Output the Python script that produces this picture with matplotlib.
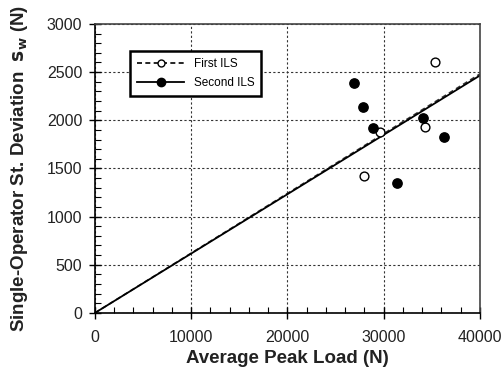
import matplotlib
matplotlib.use("Agg")
import matplotlib.pyplot as plt
import numpy as np
from matplotlib.lines import Line2D
from matplotlib.ticker import MultipleLocator

plt.rcParams['font.family'] = ['Liberation Sans', 'DejaVu Sans']

# first ILS (open circles)
x_first = [35300, 29600, 34300, 28000]
y_first = [2600, 1875, 1930, 1425]
# second ILS (filled circles)
x_second = [26900, 27900, 28900, 31350, 34100, 36250]
y_second = [2390, 2140, 1915, 1345, 2020, 1830]
# fitted slopes through origin
slope_first = 0.0620
slope_second = 0.0616
x_fit = [0, 40000]

fig = plt.figure(figsize=(5.02, 3.73), dpi=100)
ax = fig.add_axes([0.189, 0.161, 0.767, 0.775])

ax.plot(x_fit, [slope_first * v for v in x_fit], color='#333333', ls=(0, (3, 2)), lw=1.2)
ax.plot(x_fit, [slope_second * v for v in x_fit], color='black', ls='-', lw=1.3)
ax.scatter(x_first, y_first, s=40, facecolor='white', edgecolor='black', lw=1, zorder=3)
ax.scatter(x_second, y_second, s=45, facecolor='black', edgecolor='black', zorder=3)

ax.set_xlim(0, 40000)
ax.set_ylim(0, 3000)
ax.xaxis.set_major_locator(MultipleLocator(10000))
ax.xaxis.set_minor_locator(MultipleLocator(2000))
ax.yaxis.set_major_locator(MultipleLocator(500))
ax.yaxis.set_minor_locator(MultipleLocator(100))
ax.tick_params(which='major', direction='inout', length=8, width=1, labelsize=11.5,
               colors='black', labelcolor='#222222')
ax.tick_params(axis='x', which='major', pad=8)
ax.tick_params(axis='y', which='major', pad=5)
ax.tick_params(which='minor', direction='in', length=4, width=0.8)
ax.grid(True, which='major', ls=(0, (2, 2)), color='#333333', lw=0.8)

for side in ['top', 'right']:
    ax.spines[side].set_linestyle((0, (1.5, 1)))
    ax.spines[side].set_color('#444444')
    ax.spines[side].set_linewidth(1.2)
for side in ['left', 'bottom']:
    ax.spines[side].set_linewidth(1.2)

ax.set_xlabel('Average Peak Load (N)', fontsize=13.5, fontweight='bold', color='#222222', labelpad=4)
ax.set_ylabel(r'Single-Operator St. Deviation  $\mathbf{s}_\mathbf{w}$ (N)', fontsize=13.5,
              fontweight='bold', color='#222222', labelpad=12)

handles = [
    Line2D([], [], color='black', ls=(0, (3, 2)), lw=1.2, marker='o', markersize=5,
           markerfacecolor='white', markeredgecolor='black'),
    Line2D([], [], color='black', ls='-', lw=1.3, marker='o', markersize=6,
           markerfacecolor='black'),
]
leg = ax.legend(handles, ['First ILS', 'Second ILS'], loc='upper left',
                bbox_to_anchor=(0.091, 0.906), borderaxespad=0, fontsize=8.5, fancybox=False,
                framealpha=1, edgecolor='black', handlelength=4, borderpad=0.6,
                labelspacing=0.6)
leg.get_frame().set_linewidth(1.8)

fig.savefig('out.png', dpi=100)
